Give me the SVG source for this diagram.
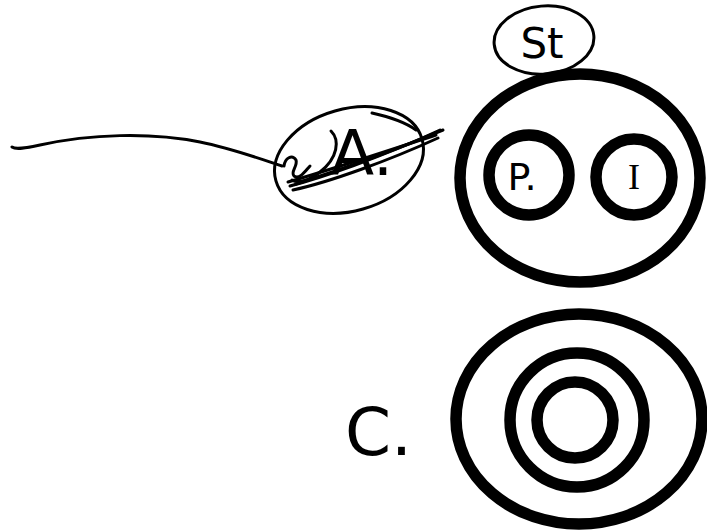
<svg xmlns="http://www.w3.org/2000/svg" width="707" height="532" viewBox="0 0 707 532">
<style>
.thick{fill:none;stroke:#000;stroke-width:11.5}
.thin{fill:none;stroke:#000;stroke-width:3;stroke-linecap:round;stroke-linejoin:round}
.big{font-family:"DejaVu Sans",sans-serif;fill:#000}
.hand{font-family:"DejaVu Sans",sans-serif;fill:#000;text-anchor:middle}
</style>
<rect width="707" height="532" fill="#fff"/>
<g id="connectors">
<path class="thin" d="M12,147 C16,150 26,148 40,145 C90,134 150,132 200,142 C230,148 255,157 282,166"/>
</g>
<g id="nodeA">
<ellipse class="thin" cx="349" cy="160" rx="76" ry="51" transform="rotate(-16 349 160)"/>
<text class="big" x="331" y="175" font-size="63">A.</text>
<path class="thin" d="M290,186 C320,178 380,158 440,130"/>
<path class="thin" d="M288,182 C330,170 390,150 436,135"/>
<path class="thin" d="M293,190 C330,182 390,160 438,138"/>
<path class="thin" d="M296,184 C340,170 400,148 443,130"/>
<path class="thin" d="M372,113 C390,117 405,122 416,130"/>
<path class="thin" d="M284,166 C285,158 292,154 296,160 C298,166 290,172 294,176 C300,180 306,170 310,166"/>
<path class="thin" d="M331,131 C340,140 338,158 320,172 C310,180 298,184 292,180"/>
</g>
<g id="nodeSt">
<ellipse class="thin" cx="544" cy="40" rx="50" ry="34" transform="rotate(-5 544 40)"/>
<text class="hand" x="542" y="58" font-size="42">St</text>
</g>
<g id="nodeTop">
<ellipse class="thick" cx="580" cy="178" rx="120" ry="104"/>
</g>
<g id="nodeP">
<circle class="thick" cx="529" cy="175" r="40"/>
<text class="hand" x="522" y="190" font-size="38">P.</text>
</g>
<g id="nodeI">
<circle class="thick" cx="634" cy="177" r="38"/>
<text x="634" y="189" font-family="'Liberation Serif',serif" font-size="36" text-anchor="middle">I</text>
</g>
<g id="nodeC">
<text class="big" x="345" y="455" font-size="66">C.</text>
<ellipse class="thick" cx="579" cy="419" rx="123" ry="105"/>
<circle class="thick" cx="577" cy="420" r="67"/>
<circle class="thick" cx="575" cy="420" r="38"/>
</g>
</svg>
